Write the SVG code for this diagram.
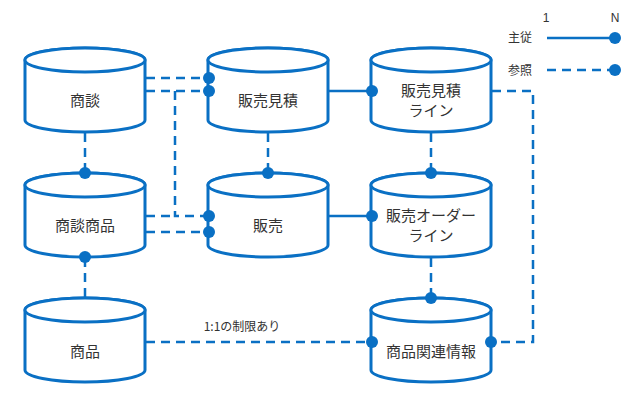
<svg xmlns="http://www.w3.org/2000/svg" width="640" height="404" viewBox="0 0 640 404">
<style>
.c{fill:#fff;stroke:#0a70c4;stroke-width:3}
.s{fill:none;stroke:#0a70c4;stroke-width:2.5}
.d{fill:none;stroke:#0a70c4;stroke-width:2.5;stroke-dasharray:9 6}
.dot{fill:#0a70c4}
text{font-family:"Noto Sans CJK JP","Noto Sans",sans-serif;font-size:15px;fill:#333;text-anchor:middle}
.sm{font-size:12px}
</style>
<defs>
<g id="cyl"><path class="c" d="M0,12 V72 A60,12 0 0 0 120,72 V12 A60,12 0 0 0 0,12 Z"/><ellipse class="c" cx="60" cy="12" rx="60" ry="12"/></g>
</defs>
<g id="n1"><use href="#cyl" x="25" y="48"/><text x="85" y="106">商談</text></g>
<g id="n2"><use href="#cyl" x="208" y="48"/><text x="268" y="106">販売見積</text></g>
<g id="n3"><use href="#cyl" x="371" y="48"/><text x="431" y="96">販売見積</text><text x="431" y="116">ライン</text></g>
<g id="n4"><use href="#cyl" x="25" y="173"/><text x="85" y="231">商談商品</text></g>
<g id="n5"><use href="#cyl" x="208" y="173"/><text x="268" y="231">販売</text></g>
<g id="n6"><use href="#cyl" x="371" y="173"/><text x="431" y="221">販売オーダー</text><text x="431" y="241">ライン</text></g>
<g id="n7"><use href="#cyl" x="25" y="298"/><text x="85" y="357">商品</text></g>
<g id="n8"><use href="#cyl" x="371" y="298"/><text x="431" y="357">商品関連情報</text></g>
<g id="connectors">
<path class="d" d="M146,78 H208"/>
<path class="d" d="M146,91 H208"/>
<path class="d" d="M175,91 V216 H208"/>
<path class="d" d="M146,232 H208"/>
<path class="d" d="M146,216 H175"/>
<path class="d" d="M85,133 V173"/>
<path class="d" d="M85,258 V298"/>
<path class="d" d="M268,133 V173"/>
<path class="s" d="M329,91 H371"/>
<path class="s" d="M329,216 H371"/>
<path class="d" d="M431,133 V173"/>
<path class="d" d="M431,258 V298"/>
<path class="d" d="M492,91 H533 V342 H492"/>
<path class="d" d="M146,342 H371"/>
<circle class="dot" cx="209" cy="78" r="6"/>
<circle class="dot" cx="209" cy="91" r="6"/>
<circle class="dot" cx="209" cy="216" r="6"/>
<circle class="dot" cx="209" cy="232" r="6"/>
<circle class="dot" cx="85" cy="173" r="6"/>
<circle class="dot" cx="85" cy="257" r="6"/>
<circle class="dot" cx="268" cy="173" r="6"/>
<circle class="dot" cx="372" cy="91" r="6"/>
<circle class="dot" cx="372" cy="216" r="6"/>
<circle class="dot" cx="431" cy="173" r="6"/>
<circle class="dot" cx="431" cy="298" r="6"/>
<circle class="dot" cx="372" cy="342" r="6"/>
<circle class="dot" cx="491" cy="342" r="6"/>
<text x="242" y="331" class="sm">1:1の制限あり</text>
</g>
<g id="legend">
<text x="546" y="22" class="sm" style="font-family:'Liberation Sans',sans-serif">1</text>
<text x="615" y="22" class="sm" style="font-family:'Liberation Sans',sans-serif">N</text>
<text x="520" y="42" class="sm">主従</text>
<text x="520" y="75" class="sm">参照</text>
<path class="s" d="M547,38 H615"/>
<path class="d" d="M547,70 H615"/>
<circle class="dot" cx="615" cy="38" r="6"/>
<circle class="dot" cx="615" cy="70" r="6"/>
</g>
</svg>
